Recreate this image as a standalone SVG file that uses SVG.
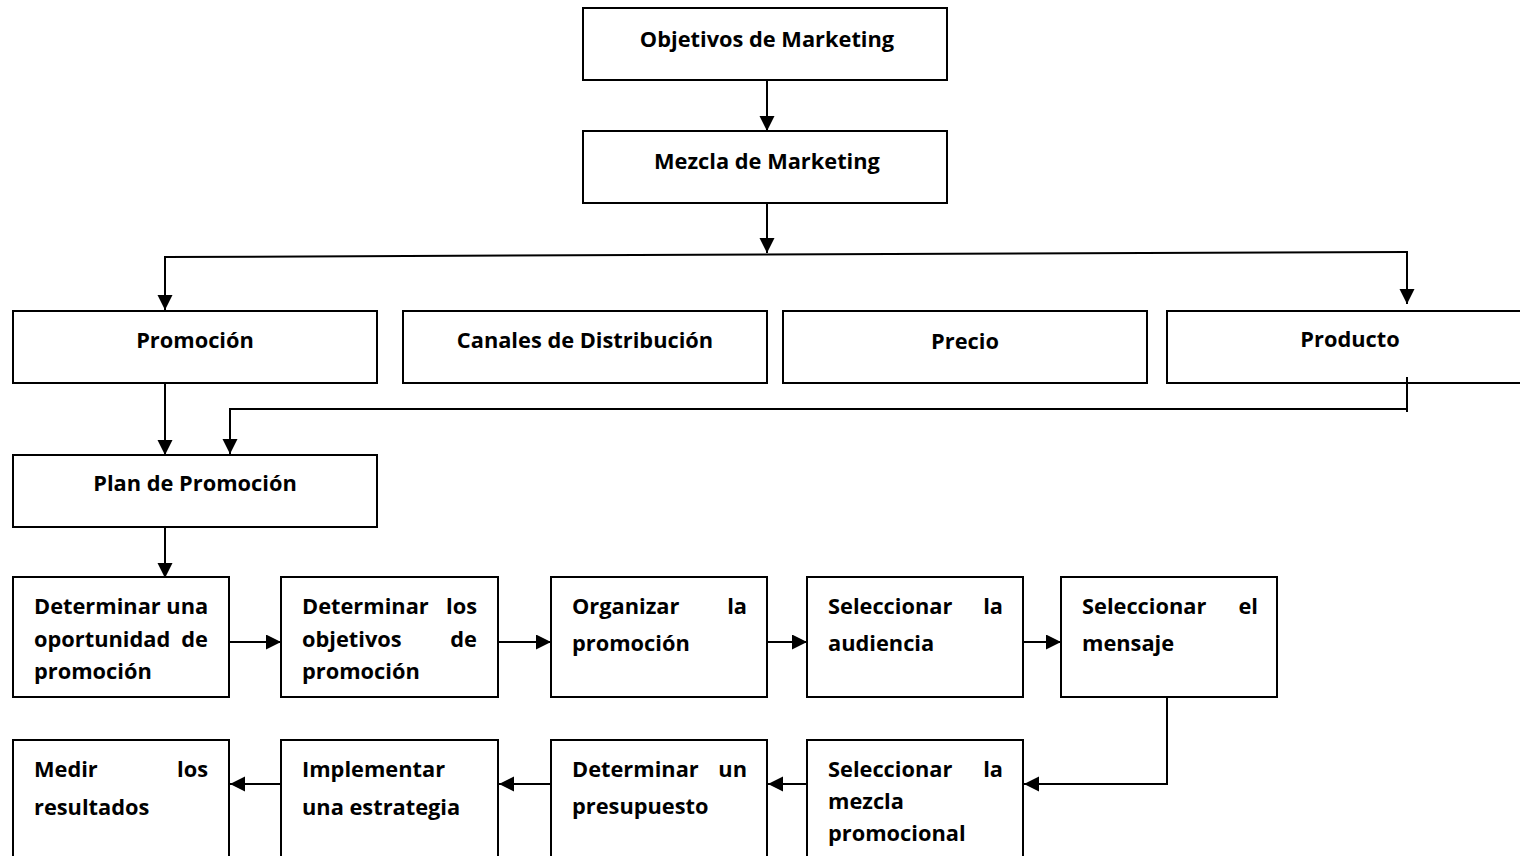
<svg xmlns="http://www.w3.org/2000/svg" width="1520" height="856" viewBox="0 0 1520 856">
<style>
.box{fill:#fff;stroke:#000;stroke-width:2}
.t{font-family:"Open Sans","Liberation Sans",sans-serif;font-weight:bold;font-size:21.8px;fill:#000}
.c{text-anchor:middle}
.e{text-anchor:end}
.ln{fill:none;stroke:#000;stroke-width:2}
</style>
<defs>
<marker id="ah" markerUnits="userSpaceOnUse" markerWidth="16" markerHeight="16" refX="15" refY="7.5" orient="auto">
<path d="M0,0 L15,7.5 L0,15 z" fill="#000"/>
</marker>
</defs>
<rect width="1520" height="856" fill="#fff"/>
<g id="n-objetivos"><rect class="box" x="583" y="8" width="364" height="72"/><text class="t c" x="767" y="47">Objetivos de Marketing</text></g>
<g id="n-mezcla"><rect class="box" x="583" y="131" width="364" height="72"/><text class="t c" x="767" y="169">Mezcla de Marketing</text></g>
<g id="n-promocion"><rect class="box" x="13" y="311" width="364" height="72"/><text class="t c" x="195" y="348">Promoción</text></g>
<g id="n-canales"><rect class="box" x="403" y="311" width="364" height="72"/><text class="t c" x="585" y="348">Canales de Distribución</text></g>
<g id="n-precio"><rect class="box" x="783" y="311" width="364" height="72"/><text class="t c" x="965" y="349">Precio</text></g>
<g id="n-producto"><rect class="box" x="1167" y="311" width="370" height="72"/><text class="t c" x="1350" y="347">Producto</text></g>
<g id="n-plan"><rect class="box" x="13" y="455" width="364" height="72"/><text class="t c" x="195" y="491">Plan de Promoción</text></g>

<g id="n-oportunidad"><rect class="box" x="13" y="577" width="216" height="120"/>
<text class="t" x="34" y="614">Determinar una</text>
<text class="t" x="34" y="647">oportunidad</text><text class="t e" x="208" y="647">de</text>
<text class="t" x="34" y="679">promoción</text></g>
<g id="n-objetivosprom"><rect class="box" x="281" y="577" width="217" height="120"/>
<text class="t" x="302" y="614">Determinar</text><text class="t e" x="477" y="614">los</text>
<text class="t" x="302" y="647">objetivos</text><text class="t e" x="477" y="647">de</text>
<text class="t" x="302" y="679">promoción</text></g>
<g id="n-organizar"><rect class="box" x="551" y="577" width="216" height="120"/>
<text class="t" x="572" y="614">Organizar</text><text class="t e" x="747" y="614">la</text>
<text class="t" x="572" y="651">promoción</text></g>
<g id="n-audiencia"><rect class="box" x="807" y="577" width="216" height="120"/>
<text class="t" x="828" y="614">Seleccionar</text><text class="t e" x="1003" y="614">la</text>
<text class="t" x="828" y="651">audiencia</text></g>
<g id="n-mensaje"><rect class="box" x="1061" y="577" width="216" height="120"/>
<text class="t" x="1082" y="614">Seleccionar</text><text class="t e" x="1258" y="614">el</text>
<text class="t" x="1082" y="651">mensaje</text></g>

<g id="n-medir"><rect class="box" x="13" y="740" width="216" height="130"/>
<text class="t" x="34" y="777">Medir</text><text class="t e" x="208" y="777">los</text>
<text class="t" x="34" y="815">resultados</text></g>
<g id="n-implementar"><rect class="box" x="281" y="740" width="217" height="130"/>
<text class="t" x="302" y="777">Implementar</text>
<text class="t" x="302" y="815">una estrategia</text></g>
<g id="n-presupuesto"><rect class="box" x="551" y="740" width="216" height="130"/>
<text class="t" x="572" y="777">Determinar</text><text class="t e" x="747" y="777">un</text>
<text class="t" x="572" y="814">presupuesto</text></g>
<g id="n-mezclaprom"><rect class="box" x="807" y="740" width="216" height="130"/>
<text class="t" x="828" y="777">Seleccionar</text><text class="t e" x="1003" y="777">la</text>
<text class="t" x="828" y="809">mezcla</text>
<text class="t" x="828" y="841">promocional</text></g>

<g id="connectors">
<path class="ln" d="M767,81 V131" marker-end="url(#ah)"/>
<path class="ln" d="M767,204 V253" marker-end="url(#ah)"/>
<path class="ln" d="M165,257 L1407,252"/>
<path class="ln" d="M165,256 V310" marker-end="url(#ah)"/>
<path class="ln" d="M1407,251 V304" marker-end="url(#ah)"/>
<path class="ln" d="M165,384 V455" marker-end="url(#ah)"/>
<path class="ln" d="M1407,377 V412 M1408,409 H230 V454" marker-end="url(#ah)"/>
<path class="ln" d="M165,528 V578" marker-end="url(#ah)"/>
<path class="ln" d="M230,642 H281" marker-end="url(#ah)"/>
<path class="ln" d="M499,642 H551" marker-end="url(#ah)"/>
<path class="ln" d="M768,642 H807" marker-end="url(#ah)"/>
<path class="ln" d="M1024,642 H1061" marker-end="url(#ah)"/>
<path class="ln" d="M1167,698 V784 H1024" marker-end="url(#ah)"/>
<path class="ln" d="M806,784 H768" marker-end="url(#ah)"/>
<path class="ln" d="M550,784 H499" marker-end="url(#ah)"/>
<path class="ln" d="M280,784 H230" marker-end="url(#ah)"/>
</g>
</svg>
